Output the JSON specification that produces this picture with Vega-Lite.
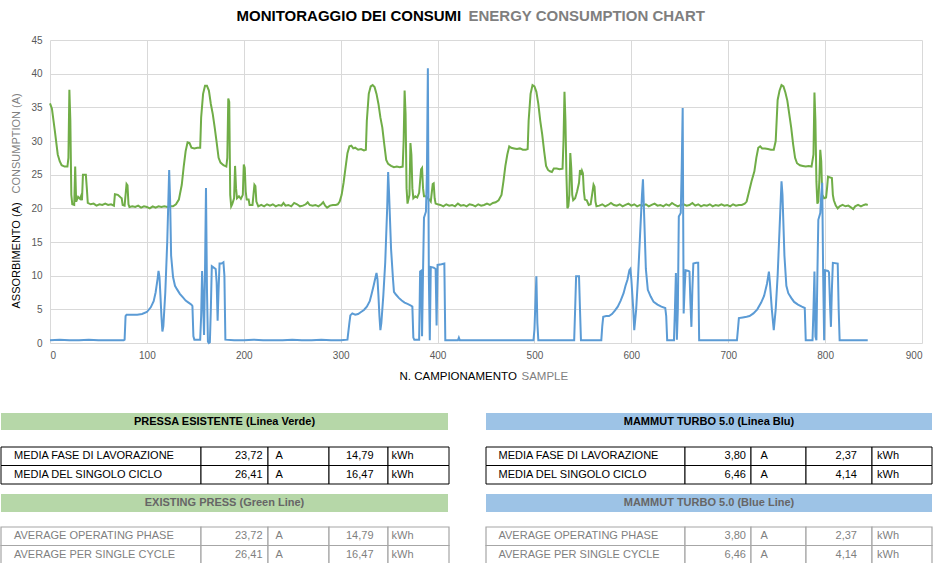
{
  "$schema": "https://vega.github.io/schema/vega-lite/v6.json",
  "background": "white",
  "padding": {"left": 0, "top": 8, "right": 0, "bottom": 0},
  "config": {
    "font": "Liberation Sans",
    "view": {"stroke": null},
    "axis": {"domain": false, "ticks": false, "gridColor": "#d9d9d9", "labelColor": "#595959", "labelFontSize": 10, "titleFontWeight": "normal", "titleBaseline": "middle"},
    "text": {"font": "Liberation Sans", "fontSize": 11}
  },
  "datasets": {
    "pressa": [
      {"campione": 0, "ampere": 35.6}, {"campione": 2, "ampere": 34.8}, {"campione": 5, "ampere": 31.5}, {"campione": 8, "ampere": 28.0},
      {"campione": 10, "ampere": 27.0}, {"campione": 12, "ampere": 26.4}, {"campione": 15, "ampere": 26.2}, {"campione": 18, "ampere": 26.2},
      {"campione": 19, "ampere": 27.5}, {"campione": 20, "ampere": 37.6}, {"campione": 21, "ampere": 33.0}, {"campione": 22, "ampere": 22.0},
      {"campione": 23, "ampere": 20.6}, {"campione": 25, "ampere": 20.5}, {"campione": 26, "ampere": 26.2}, {"campione": 27, "ampere": 21.0},
      {"campione": 29, "ampere": 21.7}, {"campione": 31, "ampere": 21.4}, {"campione": 32, "ampere": 21.8}, {"campione": 33, "ampere": 21.2},
      {"campione": 34, "ampere": 25.0}, {"campione": 37, "ampere": 25.0}, {"campione": 38, "ampere": 23.0}, {"campione": 39, "ampere": 20.8},
      {"campione": 42, "ampere": 20.6}, {"campione": 45, "ampere": 20.7}, {"campione": 48, "ampere": 20.4}, {"campione": 51, "ampere": 20.6},
      {"campione": 54, "ampere": 20.5}, {"campione": 57, "ampere": 20.7}, {"campione": 60, "ampere": 20.5}, {"campione": 63, "ampere": 20.6},
      {"campione": 66, "ampere": 20.4}, {"campione": 67, "ampere": 22.1}, {"campione": 70, "ampere": 22.0}, {"campione": 73, "ampere": 21.6},
      {"campione": 74, "ampere": 21.5}, {"campione": 75, "ampere": 20.5}, {"campione": 77, "ampere": 20.4}, {"campione": 79, "ampere": 23.6},
      {"campione": 80, "ampere": 23.4}, {"campione": 81, "ampere": 20.6}, {"campione": 82, "ampere": 20.2}, {"campione": 85, "ampere": 20.3},
      {"campione": 88, "ampere": 20.2}, {"campione": 91, "ampere": 20.4}, {"campione": 94, "ampere": 20.1}, {"campione": 97, "ampere": 20.3},
      {"campione": 100, "ampere": 20.2}, {"campione": 103, "ampere": 20.0}, {"campione": 106, "ampere": 20.3}, {"campione": 109, "ampere": 20.1},
      {"campione": 112, "ampere": 20.3}, {"campione": 115, "ampere": 20.2}, {"campione": 118, "ampere": 20.3}, {"campione": 121, "ampere": 20.2},
      {"campione": 124, "ampere": 20.3}, {"campione": 127, "ampere": 20.3}, {"campione": 130, "ampere": 20.6}, {"campione": 133, "ampere": 21.3},
      {"campione": 136, "ampere": 23.5}, {"campione": 138, "ampere": 26.2}, {"campione": 140, "ampere": 28.5}, {"campione": 142, "ampere": 29.8},
      {"campione": 144, "ampere": 29.7}, {"campione": 146, "ampere": 29.0}, {"campione": 149, "ampere": 28.9}, {"campione": 152, "ampere": 29.0},
      {"campione": 155, "ampere": 29.0}, {"campione": 156, "ampere": 33.5}, {"campione": 158, "ampere": 37.0}, {"campione": 160, "ampere": 38.2},
      {"campione": 162, "ampere": 38.2}, {"campione": 164, "ampere": 37.5}, {"campione": 166, "ampere": 35.5}, {"campione": 168, "ampere": 34.0},
      {"campione": 170, "ampere": 32.0}, {"campione": 172, "ampere": 29.8}, {"campione": 174, "ampere": 27.5}, {"campione": 176, "ampere": 26.8},
      {"campione": 179, "ampere": 26.4}, {"campione": 182, "ampere": 26.2}, {"campione": 183, "ampere": 27.5}, {"campione": 184, "ampere": 36.3},
      {"campione": 185, "ampere": 35.8}, {"campione": 186, "ampere": 22.0}, {"campione": 187, "ampere": 20.3}, {"campione": 188, "ampere": 20.6},
      {"campione": 190, "ampere": 21.5}, {"campione": 191, "ampere": 26.3}, {"campione": 192, "ampere": 23.0}, {"campione": 193, "ampere": 21.5},
      {"campione": 195, "ampere": 21.8}, {"campione": 197, "ampere": 21.4}, {"campione": 199, "ampere": 22.0}, {"campione": 200, "ampere": 26.5},
      {"campione": 201, "ampere": 26.0}, {"campione": 202, "ampere": 22.5}, {"campione": 203, "ampere": 21.3}, {"campione": 205, "ampere": 21.3},
      {"campione": 206, "ampere": 20.5}, {"campione": 209, "ampere": 20.5}, {"campione": 211, "ampere": 23.5}, {"campione": 212, "ampere": 23.3},
      {"campione": 213, "ampere": 21.0}, {"campione": 215, "ampere": 20.3}, {"campione": 218, "ampere": 20.5}, {"campione": 221, "ampere": 20.3},
      {"campione": 224, "ampere": 20.6}, {"campione": 227, "ampere": 20.4}, {"campione": 230, "ampere": 20.6}, {"campione": 233, "ampere": 20.3},
      {"campione": 236, "ampere": 20.5}, {"campione": 239, "ampere": 20.4}, {"campione": 241, "ampere": 20.8}, {"campione": 243, "ampere": 20.4},
      {"campione": 246, "ampere": 20.5}, {"campione": 249, "ampere": 20.3}, {"campione": 252, "ampere": 20.8}, {"campione": 255, "ampere": 20.6},
      {"campione": 258, "ampere": 20.3}, {"campione": 261, "ampere": 20.4}, {"campione": 264, "ampere": 20.6}, {"campione": 266, "ampere": 20.9},
      {"campione": 268, "ampere": 20.5}, {"campione": 271, "ampere": 20.4}, {"campione": 274, "ampere": 20.5}, {"campione": 277, "ampere": 20.3},
      {"campione": 280, "ampere": 20.6}, {"campione": 282, "ampere": 20.9}, {"campione": 284, "ampere": 20.4}, {"campione": 286, "ampere": 20.1},
      {"campione": 289, "ampere": 20.4}, {"campione": 292, "ampere": 20.5}, {"campione": 295, "ampere": 20.5}, {"campione": 297, "ampere": 20.6},
      {"campione": 299, "ampere": 21.0}, {"campione": 301, "ampere": 22.0}, {"campione": 303, "ampere": 23.8}, {"campione": 305, "ampere": 26.0},
      {"campione": 307, "ampere": 28.2}, {"campione": 309, "ampere": 29.2}, {"campione": 311, "ampere": 29.3}, {"campione": 313, "ampere": 28.9},
      {"campione": 315, "ampere": 29.0}, {"campione": 318, "ampere": 28.7}, {"campione": 321, "ampere": 28.8}, {"campione": 324, "ampere": 28.6},
      {"campione": 326, "ampere": 28.7}, {"campione": 327, "ampere": 33.0}, {"campione": 329, "ampere": 37.0}, {"campione": 331, "ampere": 38.1},
      {"campione": 333, "ampere": 38.3}, {"campione": 335, "ampere": 38.0}, {"campione": 337, "ampere": 37.0}, {"campione": 339, "ampere": 35.5},
      {"campione": 341, "ampere": 33.5}, {"campione": 343, "ampere": 32.0}, {"campione": 345, "ampere": 29.5}, {"campione": 347, "ampere": 27.2},
      {"campione": 349, "ampere": 26.6}, {"campione": 352, "ampere": 26.3}, {"campione": 355, "ampere": 26.1}, {"campione": 358, "ampere": 26.2},
      {"campione": 361, "ampere": 26.1}, {"campione": 364, "ampere": 26.2}, {"campione": 365, "ampere": 30.0}, {"campione": 366, "ampere": 37.5},
      {"campione": 367, "ampere": 34.0}, {"campione": 368, "ampere": 23.0}, {"campione": 369, "ampere": 20.7}, {"campione": 371, "ampere": 22.0},
      {"campione": 372, "ampere": 29.7}, {"campione": 373, "ampere": 28.0}, {"campione": 374, "ampere": 23.0}, {"campione": 375, "ampere": 21.5},
      {"campione": 377, "ampere": 21.8}, {"campione": 379, "ampere": 21.6}, {"campione": 381, "ampere": 22.3}, {"campione": 383, "ampere": 25.8},
      {"campione": 384, "ampere": 26.0}, {"campione": 385, "ampere": 23.0}, {"campione": 386, "ampere": 21.8}, {"campione": 388, "ampere": 21.8},
      {"campione": 390, "ampere": 21.5}, {"campione": 392, "ampere": 21.2}, {"campione": 393, "ampere": 21.0}, {"campione": 395, "ampere": 23.6},
      {"campione": 396, "ampere": 23.7}, {"campione": 397, "ampere": 21.5}, {"campione": 398, "ampere": 20.7}, {"campione": 400, "ampere": 20.6},
      {"campione": 403, "ampere": 20.5}, {"campione": 406, "ampere": 20.3}, {"campione": 409, "ampere": 20.6}, {"campione": 412, "ampere": 20.4},
      {"campione": 415, "ampere": 20.5}, {"campione": 418, "ampere": 20.3}, {"campione": 421, "ampere": 20.7}, {"campione": 424, "ampere": 20.4},
      {"campione": 427, "ampere": 20.5}, {"campione": 430, "ampere": 20.3}, {"campione": 433, "ampere": 20.6}, {"campione": 436, "ampere": 20.5},
      {"campione": 439, "ampere": 20.3}, {"campione": 442, "ampere": 20.6}, {"campione": 445, "ampere": 20.4}, {"campione": 448, "ampere": 20.5},
      {"campione": 451, "ampere": 20.7}, {"campione": 454, "ampere": 20.5}, {"campione": 457, "ampere": 20.8}, {"campione": 460, "ampere": 20.9},
      {"campione": 463, "ampere": 21.2}, {"campione": 466, "ampere": 22.0}, {"campione": 468, "ampere": 24.0}, {"campione": 470, "ampere": 26.3},
      {"campione": 472, "ampere": 28.0}, {"campione": 474, "ampere": 29.2}, {"campione": 476, "ampere": 29.0}, {"campione": 479, "ampere": 28.9},
      {"campione": 482, "ampere": 28.8}, {"campione": 485, "ampere": 28.9}, {"campione": 488, "ampere": 28.7}, {"campione": 491, "ampere": 28.7},
      {"campione": 493, "ampere": 28.8}, {"campione": 494, "ampere": 33.0}, {"campione": 496, "ampere": 37.0}, {"campione": 498, "ampere": 38.3},
      {"campione": 500, "ampere": 38.1}, {"campione": 502, "ampere": 37.3}, {"campione": 504, "ampere": 35.5}, {"campione": 506, "ampere": 33.0},
      {"campione": 508, "ampere": 31.0}, {"campione": 510, "ampere": 28.5}, {"campione": 512, "ampere": 26.3}, {"campione": 514, "ampere": 25.7},
      {"campione": 516, "ampere": 25.5}, {"campione": 518, "ampere": 25.4}, {"campione": 520, "ampere": 25.9}, {"campione": 523, "ampere": 25.9},
      {"campione": 526, "ampere": 25.8}, {"campione": 529, "ampere": 25.9}, {"campione": 530, "ampere": 30.0}, {"campione": 531, "ampere": 37.3},
      {"campione": 532, "ampere": 33.0}, {"campione": 533, "ampere": 25.0}, {"campione": 534, "ampere": 20.0}, {"campione": 535, "ampere": 20.3},
      {"campione": 536, "ampere": 22.0}, {"campione": 537, "ampere": 28.2}, {"campione": 538, "ampere": 26.0}, {"campione": 539, "ampere": 22.0},
      {"campione": 540, "ampere": 21.2}, {"campione": 542, "ampere": 21.5}, {"campione": 544, "ampere": 22.5}, {"campione": 546, "ampere": 23.8},
      {"campione": 547, "ampere": 25.7}, {"campione": 548, "ampere": 25.0}, {"campione": 549, "ampere": 25.6}, {"campione": 550, "ampere": 25.2},
      {"campione": 551, "ampere": 22.5}, {"campione": 552, "ampere": 21.3}, {"campione": 554, "ampere": 21.2}, {"campione": 556, "ampere": 20.5},
      {"campione": 558, "ampere": 20.6}, {"campione": 560, "ampere": 22.5}, {"campione": 561, "ampere": 23.5}, {"campione": 562, "ampere": 23.2},
      {"campione": 563, "ampere": 21.0}, {"campione": 564, "ampere": 20.3}, {"campione": 567, "ampere": 20.4}, {"campione": 570, "ampere": 20.6},
      {"campione": 573, "ampere": 20.3}, {"campione": 576, "ampere": 20.5}, {"campione": 579, "ampere": 20.8}, {"campione": 582, "ampere": 20.5},
      {"campione": 585, "ampere": 20.4}, {"campione": 588, "ampere": 20.6}, {"campione": 591, "ampere": 20.3}, {"campione": 594, "ampere": 20.5},
      {"campione": 597, "ampere": 20.7}, {"campione": 600, "ampere": 20.4}, {"campione": 603, "ampere": 20.6}, {"campione": 606, "ampere": 20.3},
      {"campione": 609, "ampere": 20.5}, {"campione": 612, "ampere": 20.4}, {"campione": 615, "ampere": 20.6}, {"campione": 618, "ampere": 20.3},
      {"campione": 621, "ampere": 20.5}, {"campione": 624, "ampere": 20.7}, {"campione": 627, "ampere": 20.4}, {"campione": 630, "ampere": 20.5},
      {"campione": 633, "ampere": 20.3}, {"campione": 636, "ampere": 20.6}, {"campione": 639, "ampere": 20.4}, {"campione": 642, "ampere": 20.8},
      {"campione": 645, "ampere": 20.5}, {"campione": 648, "ampere": 20.3}, {"campione": 651, "ampere": 20.5}, {"campione": 654, "ampere": 20.6},
      {"campione": 657, "ampere": 20.4}, {"campione": 660, "ampere": 20.5}, {"campione": 663, "ampere": 20.8}, {"campione": 666, "ampere": 20.4},
      {"campione": 669, "ampere": 20.6}, {"campione": 672, "ampere": 20.3}, {"campione": 675, "ampere": 20.5}, {"campione": 678, "ampere": 20.4},
      {"campione": 681, "ampere": 20.6}, {"campione": 684, "ampere": 20.3}, {"campione": 687, "ampere": 20.5}, {"campione": 690, "ampere": 20.4},
      {"campione": 693, "ampere": 20.6}, {"campione": 696, "ampere": 20.4}, {"campione": 699, "ampere": 20.5}, {"campione": 702, "ampere": 20.3},
      {"campione": 705, "ampere": 20.6}, {"campione": 708, "ampere": 20.4}, {"campione": 711, "ampere": 20.5}, {"campione": 714, "ampere": 20.5},
      {"campione": 717, "ampere": 20.7}, {"campione": 719, "ampere": 21.0}, {"campione": 721, "ampere": 22.2}, {"campione": 724, "ampere": 24.0},
      {"campione": 727, "ampere": 25.5}, {"campione": 729, "ampere": 27.5}, {"campione": 731, "ampere": 29.0}, {"campione": 733, "ampere": 29.2},
      {"campione": 735, "ampere": 28.9}, {"campione": 738, "ampere": 28.9}, {"campione": 741, "ampere": 28.8}, {"campione": 744, "ampere": 28.7},
      {"campione": 747, "ampere": 28.7}, {"campione": 749, "ampere": 30.0}, {"campione": 751, "ampere": 36.1}, {"campione": 753, "ampere": 37.5},
      {"campione": 755, "ampere": 38.3}, {"campione": 757, "ampere": 38.1}, {"campione": 759, "ampere": 37.2}, {"campione": 761, "ampere": 36.0},
      {"campione": 763, "ampere": 34.0}, {"campione": 765, "ampere": 32.0}, {"campione": 767, "ampere": 29.5}, {"campione": 769, "ampere": 27.5},
      {"campione": 771, "ampere": 26.7}, {"campione": 774, "ampere": 26.4}, {"campione": 777, "ampere": 26.3}, {"campione": 780, "ampere": 26.2},
      {"campione": 783, "ampere": 26.3}, {"campione": 786, "ampere": 26.2}, {"campione": 788, "ampere": 28.0}, {"campione": 789, "ampere": 37.2},
      {"campione": 790, "ampere": 33.0}, {"campione": 791, "ampere": 24.0}, {"campione": 792, "ampere": 20.7}, {"campione": 793, "ampere": 21.0},
      {"campione": 794, "ampere": 24.0}, {"campione": 795, "ampere": 28.7}, {"campione": 796, "ampere": 27.0}, {"campione": 797, "ampere": 22.0},
      {"campione": 799, "ampere": 21.5}, {"campione": 801, "ampere": 21.6}, {"campione": 802, "ampere": 23.0}, {"campione": 803, "ampere": 24.7},
      {"campione": 805, "ampere": 24.6}, {"campione": 807, "ampere": 24.5}, {"campione": 808, "ampere": 22.0}, {"campione": 809, "ampere": 21.2},
      {"campione": 811, "ampere": 20.4}, {"campione": 813, "ampere": 20.0}, {"campione": 815, "ampere": 20.3}, {"campione": 818, "ampere": 20.5},
      {"campione": 821, "ampere": 20.3}, {"campione": 824, "ampere": 20.4}, {"campione": 827, "ampere": 20.1}, {"campione": 829, "ampere": 19.9},
      {"campione": 831, "ampere": 20.3}, {"campione": 834, "ampere": 20.5}, {"campione": 837, "ampere": 20.3}, {"campione": 840, "ampere": 20.5},
      {"campione": 842, "ampere": 20.6}, {"campione": 844, "ampere": 20.5}
    ],
    "mammut": [
      {"campione": 0, "ampere": 0.4}, {"campione": 10, "ampere": 0.5}, {"campione": 20, "ampere": 0.4}, {"campione": 30, "ampere": 0.4},
      {"campione": 40, "ampere": 0.5}, {"campione": 50, "ampere": 0.4}, {"campione": 60, "ampere": 0.4}, {"campione": 70, "ampere": 0.4},
      {"campione": 76, "ampere": 0.4}, {"campione": 77, "ampere": 0.5}, {"campione": 78, "ampere": 4.0}, {"campione": 79, "ampere": 4.2},
      {"campione": 84, "ampere": 4.2}, {"campione": 90, "ampere": 4.2}, {"campione": 95, "ampere": 4.3}, {"campione": 100, "ampere": 4.6},
      {"campione": 104, "ampere": 5.3}, {"campione": 107, "ampere": 6.2}, {"campione": 109, "ampere": 7.5}, {"campione": 111, "ampere": 9.5},
      {"campione": 112, "ampere": 10.7}, {"campione": 113, "ampere": 9.8}, {"campione": 114, "ampere": 7.0}, {"campione": 115, "ampere": 4.0},
      {"campione": 116, "ampere": 1.7}, {"campione": 117, "ampere": 2.5}, {"campione": 119, "ampere": 7.5}, {"campione": 121, "ampere": 15.0},
      {"campione": 123, "ampere": 25.7}, {"campione": 124, "ampere": 21.0}, {"campione": 125, "ampere": 13.0}, {"campione": 127, "ampere": 9.8},
      {"campione": 129, "ampere": 8.5}, {"campione": 131, "ampere": 8.0}, {"campione": 134, "ampere": 7.3}, {"campione": 137, "ampere": 6.8},
      {"campione": 140, "ampere": 6.3}, {"campione": 143, "ampere": 6.0}, {"campione": 146, "ampere": 5.7}, {"campione": 147, "ampere": 5.5},
      {"campione": 148, "ampere": 1.0}, {"campione": 149, "ampere": 0.5}, {"campione": 155, "ampere": 0.5}, {"campione": 156, "ampere": 4.0},
      {"campione": 157, "ampere": 10.7}, {"campione": 158, "ampere": 6.0}, {"campione": 159, "ampere": 1.2}, {"campione": 160, "ampere": 10.7},
      {"campione": 161, "ampere": 23.0}, {"campione": 162, "ampere": 8.0}, {"campione": 163, "ampere": 0.2}, {"campione": 164, "ampere": 0.0},
      {"campione": 165, "ampere": 0.1}, {"campione": 166, "ampere": 5.0}, {"campione": 167, "ampere": 11.4}, {"campione": 169, "ampere": 11.2},
      {"campione": 171, "ampere": 11.0}, {"campione": 172, "ampere": 9.0}, {"campione": 173, "ampere": 3.3}, {"campione": 174, "ampere": 8.0},
      {"campione": 175, "ampere": 11.8}, {"campione": 177, "ampere": 11.8}, {"campione": 179, "ampere": 12.0}, {"campione": 180, "ampere": 10.0},
      {"campione": 181, "ampere": 0.5}, {"campione": 190, "ampere": 0.4}, {"campione": 200, "ampere": 0.4}, {"campione": 210, "ampere": 0.5},
      {"campione": 220, "ampere": 0.4}, {"campione": 230, "ampere": 0.4}, {"campione": 240, "ampere": 0.4}, {"campione": 250, "ampere": 0.5},
      {"campione": 260, "ampere": 0.4}, {"campione": 270, "ampere": 0.4}, {"campione": 280, "ampere": 0.5}, {"campione": 290, "ampere": 0.4},
      {"campione": 300, "ampere": 0.4}, {"campione": 307, "ampere": 0.5}, {"campione": 309, "ampere": 3.0}, {"campione": 310, "ampere": 4.1},
      {"campione": 312, "ampere": 4.4}, {"campione": 315, "ampere": 4.2}, {"campione": 318, "ampere": 4.3}, {"campione": 321, "ampere": 4.6},
      {"campione": 324, "ampere": 4.9}, {"campione": 327, "ampere": 5.4}, {"campione": 330, "ampere": 6.2}, {"campione": 332, "ampere": 7.3},
      {"campione": 334, "ampere": 8.5}, {"campione": 336, "ampere": 9.8}, {"campione": 337, "ampere": 10.4}, {"campione": 338, "ampere": 9.5},
      {"campione": 339, "ampere": 7.0}, {"campione": 340, "ampere": 4.0}, {"campione": 341, "ampere": 1.9}, {"campione": 342, "ampere": 3.0},
      {"campione": 344, "ampere": 7.0}, {"campione": 346, "ampere": 12.0}, {"campione": 348, "ampere": 20.0}, {"campione": 349, "ampere": 25.4},
      {"campione": 350, "ampere": 22.0}, {"campione": 352, "ampere": 14.0}, {"campione": 354, "ampere": 9.5}, {"campione": 355, "ampere": 7.6},
      {"campione": 357, "ampere": 7.2}, {"campione": 360, "ampere": 6.7}, {"campione": 363, "ampere": 6.3}, {"campione": 366, "ampere": 6.0},
      {"campione": 369, "ampere": 5.8}, {"campione": 372, "ampere": 5.6}, {"campione": 374, "ampere": 5.4}, {"campione": 375, "ampere": 0.8},
      {"campione": 376, "ampere": 0.5}, {"campione": 381, "ampere": 0.5}, {"campione": 382, "ampere": 10.6}, {"campione": 383, "ampere": 10.7},
      {"campione": 384, "ampere": 1.0}, {"campione": 385, "ampere": 10.5}, {"campione": 386, "ampere": 18.6}, {"campione": 388, "ampere": 19.5},
      {"campione": 389, "ampere": 25.0}, {"campione": 390, "ampere": 40.8}, {"campione": 391, "ampere": 10.0}, {"campione": 392, "ampere": 0.4},
      {"campione": 393, "ampere": 11.3}, {"campione": 396, "ampere": 11.2}, {"campione": 398, "ampere": 11.0}, {"campione": 399, "ampere": 2.6},
      {"campione": 400, "ampere": 11.6}, {"campione": 404, "ampere": 11.7}, {"campione": 407, "ampere": 11.8}, {"campione": 408, "ampere": 0.4},
      {"campione": 415, "ampere": 0.4}, {"campione": 421, "ampere": 0.4}, {"campione": 422, "ampere": 0.8}, {"campione": 423, "ampere": 0.4},
      {"campione": 435, "ampere": 0.4}, {"campione": 450, "ampere": 0.4}, {"campione": 465, "ampere": 0.4}, {"campione": 480, "ampere": 0.4},
      {"campione": 499, "ampere": 0.4}, {"campione": 500, "ampere": 2.0}, {"campione": 502, "ampere": 9.9}, {"campione": 503, "ampere": 3.0},
      {"campione": 504, "ampere": 0.4}, {"campione": 520, "ampere": 0.4}, {"campione": 541, "ampere": 0.4}, {"campione": 542, "ampere": 5.0},
      {"campione": 543, "ampere": 9.9}, {"campione": 546, "ampere": 9.9}, {"campione": 547, "ampere": 5.0}, {"campione": 548, "ampere": 0.4},
      {"campione": 560, "ampere": 0.4}, {"campione": 569, "ampere": 0.4}, {"campione": 570, "ampere": 2.5}, {"campione": 571, "ampere": 3.9},
      {"campione": 574, "ampere": 4.0}, {"campione": 577, "ampere": 4.0}, {"campione": 580, "ampere": 4.3}, {"campione": 583, "ampere": 4.8},
      {"campione": 586, "ampere": 5.4}, {"campione": 589, "ampere": 6.3}, {"campione": 592, "ampere": 7.4}, {"campione": 594, "ampere": 8.5},
      {"campione": 596, "ampere": 9.4}, {"campione": 598, "ampere": 10.8}, {"campione": 599, "ampere": 11.0}, {"campione": 600, "ampere": 9.5},
      {"campione": 602, "ampere": 5.0}, {"campione": 603, "ampere": 1.9}, {"campione": 605, "ampere": 5.0}, {"campione": 607, "ampere": 10.0},
      {"campione": 609, "ampere": 16.0}, {"campione": 611, "ampere": 22.0}, {"campione": 612, "ampere": 24.3}, {"campione": 613, "ampere": 20.0},
      {"campione": 615, "ampere": 11.0}, {"campione": 617, "ampere": 7.9}, {"campione": 620, "ampere": 6.9}, {"campione": 623, "ampere": 6.1},
      {"campione": 627, "ampere": 5.7}, {"campione": 631, "ampere": 5.4}, {"campione": 635, "ampere": 5.2}, {"campione": 636, "ampere": 4.0},
      {"campione": 637, "ampere": 0.4}, {"campione": 644, "ampere": 0.4}, {"campione": 645, "ampere": 5.0}, {"campione": 646, "ampere": 10.4},
      {"campione": 647, "ampere": 0.5}, {"campione": 648, "ampere": 5.0}, {"campione": 649, "ampere": 18.8}, {"campione": 651, "ampere": 19.3},
      {"campione": 652, "ampere": 26.0}, {"campione": 653, "ampere": 34.9}, {"campione": 654, "ampere": 4.4}, {"campione": 655, "ampere": 8.0},
      {"campione": 656, "ampere": 10.8}, {"campione": 659, "ampere": 10.7}, {"campione": 660, "ampere": 10.6}, {"campione": 661, "ampere": 6.0},
      {"campione": 662, "ampere": 2.4}, {"campione": 663, "ampere": 8.0}, {"campione": 664, "ampere": 11.8}, {"campione": 667, "ampere": 11.9},
      {"campione": 669, "ampere": 11.9}, {"campione": 670, "ampere": 0.4}, {"campione": 680, "ampere": 0.4}, {"campione": 690, "ampere": 0.4},
      {"campione": 700, "ampere": 0.4}, {"campione": 709, "ampere": 0.4}, {"campione": 710, "ampere": 2.0}, {"campione": 711, "ampere": 3.7},
      {"campione": 715, "ampere": 3.8}, {"campione": 719, "ampere": 3.9}, {"campione": 722, "ampere": 4.0}, {"campione": 726, "ampere": 4.4},
      {"campione": 730, "ampere": 5.0}, {"campione": 734, "ampere": 6.0}, {"campione": 737, "ampere": 7.0}, {"campione": 740, "ampere": 8.8},
      {"campione": 742, "ampere": 10.6}, {"campione": 743, "ampere": 9.0}, {"campione": 745, "ampere": 5.0}, {"campione": 747, "ampere": 1.9},
      {"campione": 749, "ampere": 5.0}, {"campione": 751, "ampere": 10.0}, {"campione": 753, "ampere": 17.0}, {"campione": 755, "ampere": 24.0},
      {"campione": 756, "ampere": 22.0}, {"campione": 758, "ampere": 13.0}, {"campione": 760, "ampere": 8.5}, {"campione": 762, "ampere": 7.4},
      {"campione": 765, "ampere": 6.7}, {"campione": 768, "ampere": 6.1}, {"campione": 772, "ampere": 5.7}, {"campione": 776, "ampere": 5.4},
      {"campione": 779, "ampere": 5.2}, {"campione": 780, "ampere": 0.4}, {"campione": 787, "ampere": 0.4}, {"campione": 788, "ampere": 5.0},
      {"campione": 789, "ampere": 10.6}, {"campione": 790, "ampere": 1.0}, {"campione": 791, "ampere": 0.4}, {"campione": 792, "ampere": 10.0},
      {"campione": 793, "ampere": 18.3}, {"campione": 795, "ampere": 19.3}, {"campione": 796, "ampere": 22.0}, {"campione": 797, "ampere": 23.8},
      {"campione": 798, "ampere": 10.0}, {"campione": 799, "ampere": 0.4}, {"campione": 800, "ampere": 10.8}, {"campione": 803, "ampere": 10.7},
      {"campione": 804, "ampere": 10.5}, {"campione": 805, "ampere": 6.0}, {"campione": 806, "ampere": 2.4}, {"campione": 807, "ampere": 8.0},
      {"campione": 808, "ampere": 11.9}, {"campione": 813, "ampere": 11.8}, {"campione": 814, "ampere": 5.0}, {"campione": 815, "ampere": 0.4},
      {"campione": 825, "ampere": 0.4}, {"campione": 835, "ampere": 0.4}, {"campione": 844, "ampere": 0.4}
    ],
    "pressa_it": [
      {"voce": "MEDIA FASE DI LAVORAZIONE", "corrente": "23,72", "unita": "A", "energia": "14,79", "misura": "kWh"},
      {"voce": "MEDIA DEL SINGOLO CICLO", "corrente": "26,41", "unita": "A", "energia": "16,47", "misura": "kWh"}
    ],
    "pressa_en": [
      {"voce": "AVERAGE OPERATING PHASE", "corrente": "23,72", "unita": "A", "energia": "14,79", "misura": "kWh"},
      {"voce": "AVERAGE PER SINGLE CYCLE", "corrente": "26,41", "unita": "A", "energia": "16,47", "misura": "kWh"}
    ],
    "mammut_it": [
      {"voce": "MEDIA FASE DI LAVORAZIONE", "corrente": "3,80", "unita": "A", "energia": "2,37", "misura": "kWh"},
      {"voce": "MEDIA DEL SINGOLO CICLO", "corrente": "6,46", "unita": "A", "energia": "4,14", "misura": "kWh"}
    ],
    "mammut_en": [
      {"voce": "AVERAGE OPERATING PHASE", "corrente": "3,80", "unita": "A", "energia": "2,37", "misura": "kWh"},
      {"voce": "AVERAGE PER SINGLE CYCLE", "corrente": "6,46", "unita": "A", "energia": "4,14", "misura": "kWh"}
    ]
  },
  "center": true,
  "spacing": 31,
  "vconcat": [
    {
      "width": 872,
      "height": 303,
      "layer": [
        {
          "data": {"name": "pressa"},
          "mark": {"type": "line", "color": "#70ad47", "strokeWidth": 2},
          "encoding": {
            "x": {"field": "campione", "type": "quantitative", "scale": {"domain": [0, 900], "nice": false},
              "axis": {"orient": "bottom", "values": [0, 100, 200, 300, 400, 500, 600, 700, 800, 900], "grid": true, "labelPadding": 7,
                "title": "N. CAMPIONAMENTO", "titleColor": "#000000", "titleFontSize": 11.5, "titleX": 349, "titleY": 33, "titleAlign": "left"}},
            "y": {"field": "ampere", "type": "quantitative", "scale": {"domain": [0, 45], "nice": false},
              "axis": {"orient": "left", "values": [0, 5, 10, 15, 20, 25, 30, 35, 40, 45], "grid": true, "labelPadding": 8, "minExtent": 49,
                "title": "ASSORBIMENTO (A)", "titleColor": "#000000", "titleFontSize": 11, "titleAngle": -90, "titleAlign": "left", "titleX": -34, "titleY": 268}}
          }
        },
        {
          "data": {"name": "mammut"},
          "mark": {"type": "line", "color": "#5b9bd5", "strokeWidth": 2},
          "encoding": {
            "x": {"field": "campione", "type": "quantitative", "scale": {"domain": [0, 900], "nice": false},
              "axis": {"orient": "bottom", "labels": false, "grid": false,
                "title": "SAMPLE", "titleColor": "#7f7f7f", "titleFontSize": 11.5, "titleX": 471, "titleY": 33, "titleAlign": "left"}},
            "y": {"field": "ampere", "type": "quantitative", "scale": {"domain": [0, 45], "nice": false},
              "axis": {"orient": "left", "labels": false, "grid": false,
                "title": "CONSUMPTION (A)", "titleColor": "#7f7f7f", "titleFontSize": 11, "titleAngle": -90, "titleAlign": "left", "titleX": -34, "titleY": 153}}
          }
        },
        {
          "data": {"name": "pressa"},
          "mark": {"type": "point", "opacity": 0},
          "encoding": {
            "x": {"field": "campione", "type": "quantitative", "scale": {"domain": [0, 900], "nice": false},
              "axis": {"orient": "top", "labels": false, "grid": false,
                "title": "ENERGY CONSUMPTION CHART", "titleColor": "#7f7f7f", "titleFontSize": 15, "titleFontWeight": "bold", "titleX": 418, "titleY": -25, "titleAlign": "left"}},
            "y": {"field": "ampere", "type": "quantitative", "scale": {"domain": [0, 45], "nice": false},
              "axis": {"orient": "left", "labels": false, "grid": false,
                "title": "MONITORAGGIO DEI CONSUMI", "titleColor": "#000000", "titleFontSize": 15, "titleFontWeight": "bold", "titleAngle": 0, "titleX": 186, "titleY": -25, "titleAlign": "left"}},
            "tooltip": [
              {"field": "campione", "type": "quantitative", "title": "N. campionamento"},
              {"field": "ampere", "type": "quantitative", "title": "Assorbimento (A)"}
            ]
          }
        }
      ],
      "resolve": {"axis": {"x": "independent", "y": "independent"}}
    },
    {
      "spacing": 35,
      "hconcat": [
        {
          "spacing": 9,
          "vconcat": [
            {
              "spacing": 16,
              "vconcat": [
                {"width": 447, "height": 17, "view": {"fill": "#b6d7a8", "stroke": null},
                  "data": {"values": [{"titolo": "PRESSA ESISTENTE (Linea Verde)"}]},
                  "mark": {"type": "text", "fontWeight": "bold", "color": "#000000"},
                  "encoding": {"text": {"field": "titolo"}}},
                {
                  "bounds": "flush",
                  "spacing": 0,
                  "hconcat": [
                    {"width": 200, "height": 37, "data": {"name": "pressa_it"},
                      "encoding": {"y": {"field": "voce", "type": "nominal", "sort": null, "axis": null, "scale": {"paddingInner": 0, "paddingOuter": 0}}},
                      "layer": [{"mark": {"type": "rect", "fill": "#ffffff", "stroke": "#000000", "strokeWidth": 1}},
                        {"mark": {"type": "text", "align": "left", "dx": -87, "color": "#000000"}, "encoding": {"text": {"field": "voce"}}}]},
                    {"width": 67, "height": 37, "data": {"name": "pressa_it"},
                      "encoding": {"y": {"field": "voce", "type": "nominal", "sort": null, "axis": null, "scale": {"paddingInner": 0, "paddingOuter": 0}}},
                      "layer": [{"mark": {"type": "rect", "fill": "#ffffff", "stroke": "#000000", "strokeWidth": 1}},
                        {"mark": {"type": "text", "align": "right", "dx": 28, "color": "#000000"}, "encoding": {"text": {"field": "corrente"}}}]},
                    {"width": 61, "height": 37, "data": {"name": "pressa_it"},
                      "encoding": {"y": {"field": "voce", "type": "nominal", "sort": null, "axis": null, "scale": {"paddingInner": 0, "paddingOuter": 0}}},
                      "layer": [{"mark": {"type": "rect", "fill": "#ffffff", "stroke": "#000000", "strokeWidth": 1}},
                        {"mark": {"type": "text", "align": "left", "dx": -23, "color": "#000000"}, "encoding": {"text": {"field": "unita"}}}]},
                    {"width": 59, "height": 37, "data": {"name": "pressa_it"},
                      "encoding": {"y": {"field": "voce", "type": "nominal", "sort": null, "axis": null, "scale": {"paddingInner": 0, "paddingOuter": 0}}},
                      "layer": [{"mark": {"type": "rect", "fill": "#ffffff", "stroke": "#000000", "strokeWidth": 1}},
                        {"mark": {"type": "text", "align": "right", "dx": 15, "color": "#000000"}, "encoding": {"text": {"field": "energia"}}}]},
                    {"width": 61, "height": 37, "data": {"name": "pressa_it"},
                      "encoding": {"y": {"field": "voce", "type": "nominal", "sort": null, "axis": null, "scale": {"paddingInner": 0, "paddingOuter": 0}}},
                      "layer": [{"mark": {"type": "rect", "fill": "#ffffff", "stroke": "#000000", "strokeWidth": 1}},
                        {"mark": {"type": "text", "align": "left", "dx": -27, "color": "#000000"}, "encoding": {"text": {"field": "misura"}}}]}
                  ]
                }
              ]
            },
            {
              "spacing": 14,
              "vconcat": [
                {"width": 447, "height": 18, "view": {"fill": "#b6d7a8", "stroke": null},
                  "data": {"values": [{"titolo": "EXISTING PRESS (Green Line)"}]},
                  "mark": {"type": "text", "fontWeight": "bold", "color": "#666666"},
                  "encoding": {"text": {"field": "titolo"}}},
                {
                  "bounds": "flush",
                  "spacing": 0,
                  "hconcat": [
                    {"width": 200, "height": 37, "data": {"name": "pressa_en"},
                      "encoding": {"y": {"field": "voce", "type": "nominal", "sort": null, "axis": null, "scale": {"paddingInner": 0, "paddingOuter": 0}}},
                      "layer": [{"mark": {"type": "rect", "fill": "#ffffff", "stroke": "#a6a6a6", "strokeWidth": 1.2}},
                        {"mark": {"type": "text", "align": "left", "dx": -87, "color": "#7f7f7f"}, "encoding": {"text": {"field": "voce"}}}]},
                    {"width": 67, "height": 37, "data": {"name": "pressa_en"},
                      "encoding": {"y": {"field": "voce", "type": "nominal", "sort": null, "axis": null, "scale": {"paddingInner": 0, "paddingOuter": 0}}},
                      "layer": [{"mark": {"type": "rect", "fill": "#ffffff", "stroke": "#a6a6a6", "strokeWidth": 1.2}},
                        {"mark": {"type": "text", "align": "right", "dx": 28, "color": "#7f7f7f"}, "encoding": {"text": {"field": "corrente"}}}]},
                    {"width": 61, "height": 37, "data": {"name": "pressa_en"},
                      "encoding": {"y": {"field": "voce", "type": "nominal", "sort": null, "axis": null, "scale": {"paddingInner": 0, "paddingOuter": 0}}},
                      "layer": [{"mark": {"type": "rect", "fill": "#ffffff", "stroke": "#a6a6a6", "strokeWidth": 1.2}},
                        {"mark": {"type": "text", "align": "left", "dx": -23, "color": "#7f7f7f"}, "encoding": {"text": {"field": "unita"}}}]},
                    {"width": 59, "height": 37, "data": {"name": "pressa_en"},
                      "encoding": {"y": {"field": "voce", "type": "nominal", "sort": null, "axis": null, "scale": {"paddingInner": 0, "paddingOuter": 0}}},
                      "layer": [{"mark": {"type": "rect", "fill": "#ffffff", "stroke": "#a6a6a6", "strokeWidth": 1.2}},
                        {"mark": {"type": "text", "align": "right", "dx": 15, "color": "#7f7f7f"}, "encoding": {"text": {"field": "energia"}}}]},
                    {"width": 61, "height": 37, "data": {"name": "pressa_en"},
                      "encoding": {"y": {"field": "voce", "type": "nominal", "sort": null, "axis": null, "scale": {"paddingInner": 0, "paddingOuter": 0}}},
                      "layer": [{"mark": {"type": "rect", "fill": "#ffffff", "stroke": "#a6a6a6", "strokeWidth": 1.2}},
                        {"mark": {"type": "text", "align": "left", "dx": -27, "color": "#7f7f7f"}, "encoding": {"text": {"field": "misura"}}}]}
                  ]
                }
              ]
            }
          ]
        },
        {
          "spacing": 9,
          "vconcat": [
            {
              "spacing": 16,
              "vconcat": [
                {"width": 446, "height": 17, "view": {"fill": "#9dc3e6", "stroke": null},
                  "data": {"values": [{"titolo": "MAMMUT TURBO 5.0 (Linea Blu)"}]},
                  "mark": {"type": "text", "fontWeight": "bold", "color": "#000000"},
                  "encoding": {"text": {"field": "titolo"}}},
                {
                  "bounds": "flush",
                  "spacing": 0,
                  "hconcat": [
                    {"width": 199, "height": 37, "data": {"name": "mammut_it"},
                      "encoding": {"y": {"field": "voce", "type": "nominal", "sort": null, "axis": null, "scale": {"paddingInner": 0, "paddingOuter": 0}}},
                      "layer": [{"mark": {"type": "rect", "fill": "#ffffff", "stroke": "#000000", "strokeWidth": 1}},
                        {"mark": {"type": "text", "align": "left", "dx": -87, "color": "#000000"}, "encoding": {"text": {"field": "voce"}}}]},
                    {"width": 66, "height": 37, "data": {"name": "mammut_it"},
                      "encoding": {"y": {"field": "voce", "type": "nominal", "sort": null, "axis": null, "scale": {"paddingInner": 0, "paddingOuter": 0}}},
                      "layer": [{"mark": {"type": "rect", "fill": "#ffffff", "stroke": "#000000", "strokeWidth": 1}},
                        {"mark": {"type": "text", "align": "right", "dx": 28, "color": "#000000"}, "encoding": {"text": {"field": "corrente"}}}]},
                    {"width": 55, "height": 37, "data": {"name": "mammut_it"},
                      "encoding": {"y": {"field": "voce", "type": "nominal", "sort": null, "axis": null, "scale": {"paddingInner": 0, "paddingOuter": 0}}},
                      "layer": [{"mark": {"type": "rect", "fill": "#ffffff", "stroke": "#000000", "strokeWidth": 1}},
                        {"mark": {"type": "text", "align": "left", "dx": -18, "color": "#000000"}, "encoding": {"text": {"field": "unita"}}}]},
                    {"width": 66, "height": 37, "data": {"name": "mammut_it"},
                      "encoding": {"y": {"field": "voce", "type": "nominal", "sort": null, "axis": null, "scale": {"paddingInner": 0, "paddingOuter": 0}}},
                      "layer": [{"mark": {"type": "rect", "fill": "#ffffff", "stroke": "#000000", "strokeWidth": 1}},
                        {"mark": {"type": "text", "align": "right", "dx": 18, "color": "#000000"}, "encoding": {"text": {"field": "energia"}}}]},
                    {"width": 60, "height": 37, "data": {"name": "mammut_it"},
                      "encoding": {"y": {"field": "voce", "type": "nominal", "sort": null, "axis": null, "scale": {"paddingInner": 0, "paddingOuter": 0}}},
                      "layer": [{"mark": {"type": "rect", "fill": "#ffffff", "stroke": "#000000", "strokeWidth": 1}},
                        {"mark": {"type": "text", "align": "left", "dx": -25, "color": "#000000"}, "encoding": {"text": {"field": "misura"}}}]}
                  ]
                }
              ]
            },
            {
              "spacing": 14,
              "vconcat": [
                {"width": 446, "height": 18, "view": {"fill": "#9dc3e6", "stroke": null},
                  "data": {"values": [{"titolo": "MAMMUT TURBO 5.0 (Blue Line)"}]},
                  "mark": {"type": "text", "fontWeight": "bold", "color": "#666666"},
                  "encoding": {"text": {"field": "titolo"}}},
                {
                  "bounds": "flush",
                  "spacing": 0,
                  "hconcat": [
                    {"width": 199, "height": 37, "data": {"name": "mammut_en"},
                      "encoding": {"y": {"field": "voce", "type": "nominal", "sort": null, "axis": null, "scale": {"paddingInner": 0, "paddingOuter": 0}}},
                      "layer": [{"mark": {"type": "rect", "fill": "#ffffff", "stroke": "#a6a6a6", "strokeWidth": 1.2}},
                        {"mark": {"type": "text", "align": "left", "dx": -87, "color": "#7f7f7f"}, "encoding": {"text": {"field": "voce"}}}]},
                    {"width": 66, "height": 37, "data": {"name": "mammut_en"},
                      "encoding": {"y": {"field": "voce", "type": "nominal", "sort": null, "axis": null, "scale": {"paddingInner": 0, "paddingOuter": 0}}},
                      "layer": [{"mark": {"type": "rect", "fill": "#ffffff", "stroke": "#a6a6a6", "strokeWidth": 1.2}},
                        {"mark": {"type": "text", "align": "right", "dx": 28, "color": "#7f7f7f"}, "encoding": {"text": {"field": "corrente"}}}]},
                    {"width": 55, "height": 37, "data": {"name": "mammut_en"},
                      "encoding": {"y": {"field": "voce", "type": "nominal", "sort": null, "axis": null, "scale": {"paddingInner": 0, "paddingOuter": 0}}},
                      "layer": [{"mark": {"type": "rect", "fill": "#ffffff", "stroke": "#a6a6a6", "strokeWidth": 1.2}},
                        {"mark": {"type": "text", "align": "left", "dx": -18, "color": "#7f7f7f"}, "encoding": {"text": {"field": "unita"}}}]},
                    {"width": 66, "height": 37, "data": {"name": "mammut_en"},
                      "encoding": {"y": {"field": "voce", "type": "nominal", "sort": null, "axis": null, "scale": {"paddingInner": 0, "paddingOuter": 0}}},
                      "layer": [{"mark": {"type": "rect", "fill": "#ffffff", "stroke": "#a6a6a6", "strokeWidth": 1.2}},
                        {"mark": {"type": "text", "align": "right", "dx": 18, "color": "#7f7f7f"}, "encoding": {"text": {"field": "energia"}}}]},
                    {"width": 60, "height": 37, "data": {"name": "mammut_en"},
                      "encoding": {"y": {"field": "voce", "type": "nominal", "sort": null, "axis": null, "scale": {"paddingInner": 0, "paddingOuter": 0}}},
                      "layer": [{"mark": {"type": "rect", "fill": "#ffffff", "stroke": "#a6a6a6", "strokeWidth": 1.2}},
                        {"mark": {"type": "text", "align": "left", "dx": -25, "color": "#7f7f7f"}, "encoding": {"text": {"field": "misura"}}}]}
                  ]
                }
              ]
            }
          ]
        },
        {"width": 3, "height": 10, "data": {"values": []}, "mark": {"type": "text"}}
      ]
    }
  ]
}
